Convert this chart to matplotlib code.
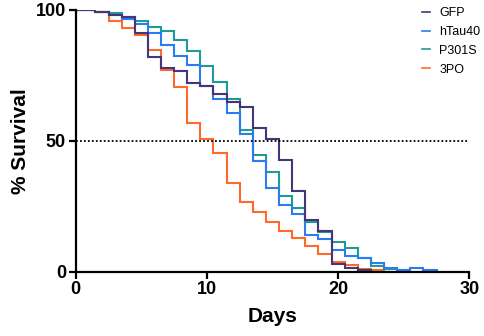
import matplotlib
matplotlib.use("Agg")
import matplotlib.pyplot as plt

plt.rcParams['font.family'] = ['Liberation Sans', 'DejaVu Sans']

# step times (days) shared by all groups
days = [0, 1.5, 2.5, 3.5, 4.5, 5.5, 6.5, 7.5, 8.5, 9.5, 10.5, 11.5, 12.5, 13.5,
        14.5, 15.5, 16.5, 17.5, 18.5, 19.5, 20.5, 21.5, 22.5, 23.5, 24.5, 25.5,
        26.5, 27.5]

# % survival, one value per step
gfp = [100, 99.1, 97.9, 97.2, 91.1, 81.9, 77.7, 76.8, 72.0, 70.9, 67.9, 64.9,
       63.0, 55.0, 50.8, 42.6, 30.9, 19.7, 15.6, 2.8, 1.5, 0.4, 0]
htau40 = [100, 99.1, 98.0, 96.6, 94.6, 91.2, 86.8, 82.6, 78.8, 70.8, 65.9, 60.5,
          52.6, 42.4, 31.8, 25.4, 21.9, 14.1, 12.5, 8.4, 6.1, 5.3, 3.1, 1.5,
          0.6, 1.5, 0.6, 0]
p301s = [100, 99.2, 98.8, 97.3, 95.7, 93.6, 91.8, 88.4, 84.2, 78.5, 72.5, 66.1,
         54.2, 44.6, 38.2, 29.0, 24.2, 19.0, 15.2, 11.2, 8.9, 5.3, 2.2, 1.0,
         0.5, 0]
po3 = [100, 99.1, 95.9, 93.0, 90.4, 84.7, 77.2, 70.7, 56.8, 50.5, 45.4, 34.0,
       26.6, 22.8, 19.0, 15.3, 12.8, 9.7, 6.8, 3.5, 2.3, 1.0, 0.5, 0]

labels = ['GFP', 'hTau40', 'P301S', '3PO']
colors = ['#45357a', '#2b7cf0', '#1f9a98', '#ff6a2a']

fig = plt.figure(figsize=(4.84, 3.36), dpi=100)
ax = fig.add_axes([75.7 / 484, 64.5 / 336, 393.6 / 484, 261.5 / 336])

series = [gfp, htau40, p301s, po3]
handles = [None] * 4
# draw orange first, purple on top
for i in [3, 2, 1, 0]:
    vals = series[i]
    ln, = ax.step(days[:len(vals)], vals, where='post', color=colors[i],
                  lw=1.5, label=labels[i], solid_joinstyle='miter')
    handles[i] = ln

ax.axhline(50, color='black', lw=1.3, ls=(0, (1, 1.2)))

ax.set_xlim(0, 30)
ax.set_ylim(0, 100)
ax.set_xticks([0, 10, 20, 30])
ax.set_yticks([0, 50, 100])
for s in ['top', 'right']:
    ax.spines[s].set_visible(False)
for s in ['left', 'bottom']:
    ax.spines[s].set_linewidth(1.6)
ax.tick_params(width=1.6, length=5, labelsize=13, pad=2)
for t in ax.get_xticklabels() + ax.get_yticklabels():
    t.set_fontweight('bold')

ax.set_xlabel('Days', fontsize=15, fontweight='bold', labelpad=6)
ax.set_ylabel('% Survival', fontsize=15, fontweight='bold', labelpad=4)

leg = fig.legend(handles=handles, labels=labels, loc='upper left',
                 bbox_to_anchor=(422 / 484, 1 - 7 / 336), frameon=False,
                 fontsize=9, handlelength=0.6, handletextpad=0.8,
                 labelspacing=0.55, borderpad=0, borderaxespad=0)
for h in leg.legend_handles:
    h.set_linewidth(1.2)

fig.savefig('out.png', dpi=100)
